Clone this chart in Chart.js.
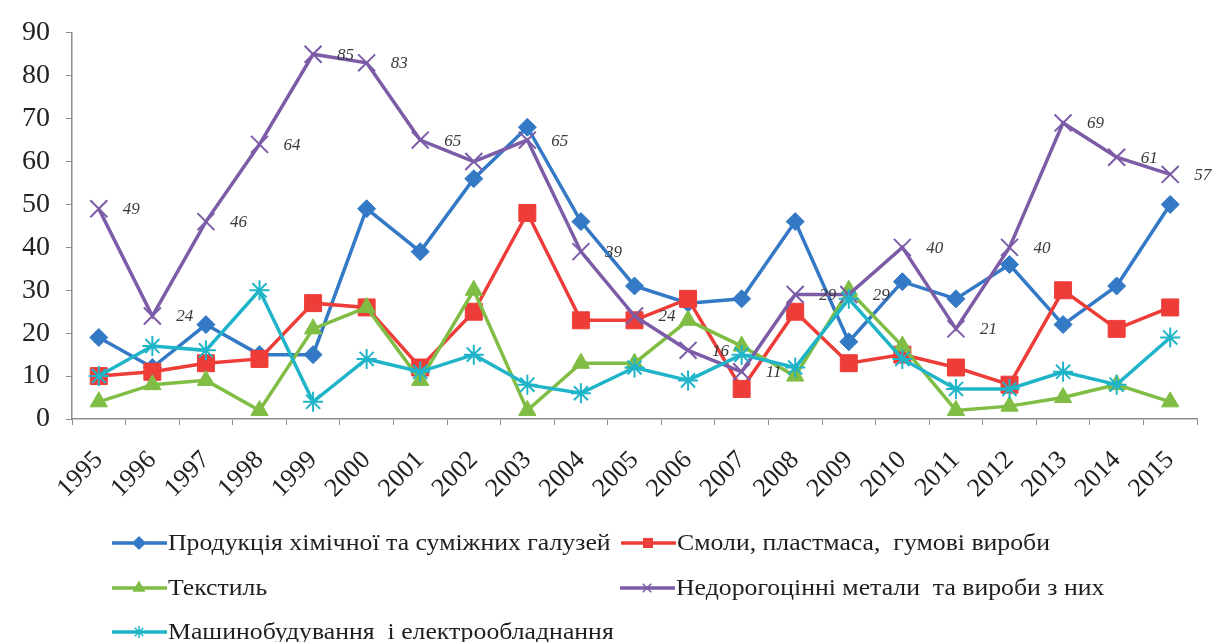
<!DOCTYPE html>
<html><head><meta charset="utf-8">
<script src="https://cdn.jsdelivr.net/npm/chart.js@4.4.1/dist/chart.umd.min.js"></script>
<style>html,body{margin:0;padding:0;background:#fff;overflow:hidden}#wrap{position:relative;width:1213px;height:642px}</style>
</head><body><div id="wrap"><canvas id="c" width="1213" height="642"></canvas></div>
<script>
// ---- data ----
const years = ['1995','1996','1997','1998','1999','2000','2001','2002','2003','2004','2005','2006','2007','2008','2009','2010','2011','2012','2013','2014','2015'];
const chemicals = [19, 12, 22, 15, 15, 49, 39, 56, 68, 46, 31, 27, 28, 46, 18, 32, 28, 36, 22, 31, 50];
const resins    = [10, 11, 13, 14, 27, 26, 12, 25, 48, 23, 23, 28, 7, 25, 13, 15, 12, 8, 30, 21, 26];
const textiles  = [4, 8, 9, 2, 21, 26, 9, 30, 2, 13, 13, 23, 17, 10, 30, 17, 2, 3, 5, 8, 4];
const metals    = [49, 24, 46, 64, 85, 83, 65, 60, 65, 39, 24, 16, 11, 29, 29, 40, 21, 40, 69, 61, 57];
const machinery = [10, 17, 16, 30, 4, 14, 11, 15, 8, 6, 12, 9, 15, 12, 28, 14, 7, 7, 11, 8, 19];
// value labels shown on the metals line (none at 2002)
const metalLabels = [49, 24, 46, 64, 85, 83, 65, null, 65, 39, 24, 16, 11, 29, 29, 40, 21, 40, 69, 61, 57];
const seriesNames = [
  'Продукція хімічної та суміжних галузей',
  'Смоли, пластмаса,  гумові вироби',
  'Текстиль',
  'Недорогоцінні метали  та вироби з них',
  'Машинобудування  і електрообладнання'
];
const yTicks = [0, 10, 20, 30, 40, 50, 60, 70, 80, 90];

// ---- styles ----
const SERIF = '"Liberation Serif", "Times New Roman", serif';
const colors = ['#3479C5', '#EE3D38', '#80BD45', '#7C5CA7', '#20B4C8'];
const pointStyles = ['rectRot', 'rect', 'triangle', 'crossRot', 'star'];
const pointRadii = [9, 12, 10, 12, 10];

Chart.defaults.font.family = SERIF;

function mkDataset(i, data) {
  return {
    label: seriesNames[i],
    data: data,
    borderColor: colors[i],
    backgroundColor: colors[i],
    pointStyle: pointStyles[i],
    pointRadius: pointRadii[i],
    pointHoverRadius: pointRadii[i],
    pointBorderWidth: (pointStyles[i] === 'crossRot' || pointStyles[i] === 'star') ? 2 : 1,
    pointBackgroundColor: colors[i],
    pointBorderColor: colors[i],
    borderWidth: 3.5,
    tension: 0,
    order: 4 - i
  };
}

const labelPlugin = {
  id: 'metalLabels',
  afterDatasetsDraw(chart) {
    const ctx = chart.ctx;
    const meta = chart.getDatasetMeta(3);
    ctx.save();
    ctx.font = 'italic 17px ' + SERIF;
    ctx.fillStyle = '#3a3a3a';
    ctx.textAlign = 'left';
    ctx.textBaseline = 'middle';
    meta.data.forEach((pt, i) => {
      if (metalLabels[i] === null) return;
      ctx.fillText(String(metalLabels[i]), pt.x + 24, pt.y + 1);
    });
    ctx.restore();
  }
};

const legendPlugin = {
  id: 'customLegend',
  afterDraw(chart) {
    const ctx = chart.ctx;
    const spots = [[112, 543], [621, 543], [112, 588], [620, 588], [112, 632]];
    ctx.save();
    chart.data.datasets.forEach((ds, i) => {
      const [x, y] = spots[i];
      ctx.strokeStyle = ds.borderColor;
      ctx.fillStyle = ds.borderColor;
      ctx.lineWidth = 3.5;
      ctx.beginPath();
      ctx.moveTo(x, y);
      ctx.lineTo(x + 55, y);
      ctx.stroke();
      ctx.lineWidth = 1.5;
      Chart.helpers.drawPoint(ctx, {pointStyle: ds.pointStyle, radius: 6, rotation: 0, borderWidth: 1.5}, x + 27, y);
      ctx.fillStyle = '#1e1e1e';
      ctx.font = '23px ' + SERIF;
      ctx.textAlign = 'left';
      ctx.textBaseline = 'middle';
      ctx.save();
      ctx.translate(x + 56, y + 1);
      ctx.scale(1.12, 1);
      ctx.fillText(ds.label, 0, 0);
      ctx.restore();
    });
    ctx.restore();
  }
};

const axisColor = '#8e8e8e';

new Chart(document.getElementById('c'), {
  type: 'line',
  data: {
    labels: years,
    datasets: [
      mkDataset(0, chemicals),
      mkDataset(1, resins),
      mkDataset(2, textiles),
      mkDataset(3, metals),
      mkDataset(4, machinery)
    ]
  },
  options: {
    responsive: false,
    animation: false,
    layout: { padding: { top: 32, right: 16, left: 0, bottom: 0 } },
    plugins: { legend: { display: false }, tooltip: { enabled: false } },
    scales: {
      x: {
        type: 'category',
        offset: true,
        grid: { display: true, drawOnChartArea: false, drawTicks: true, tickLength: 6, color: axisColor, offset: true },
        border: { color: axisColor, width: 1.5 },
        ticks: { font: { size: 26, family: SERIF }, color: '#222', minRotation: 45, maxRotation: 45, padding: 20, autoSkip: false },
        afterFit(s) { s.height = 223; }
      },
      y: {
        min: 0, max: 90,
        afterBuildTicks(s) { s.ticks = yTicks.map(v => ({ value: v })); },
        grid: { display: true, drawOnChartArea: false, drawTicks: true, tickLength: 6, color: axisColor },
        border: { color: axisColor, width: 1.5 },
        ticks: { font: { size: 28, family: SERIF }, color: '#222', padding: 16 },
        afterFit(s) { s.width = 72; }
      }
    }
  },
  plugins: [labelPlugin, legendPlugin]
});
</script>
</body></html>
